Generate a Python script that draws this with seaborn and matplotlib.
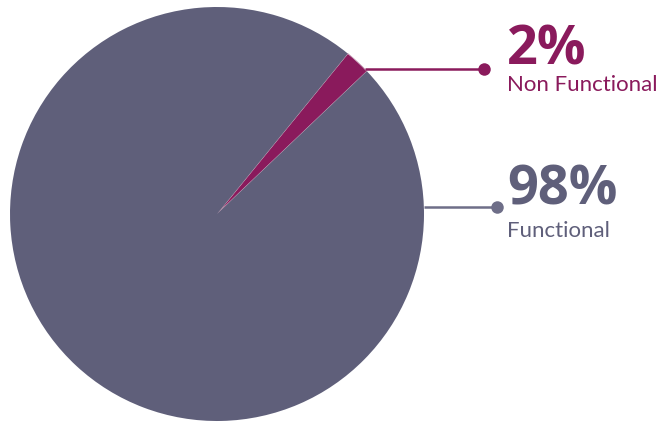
import numpy as np
import matplotlib
matplotlib.use("Agg")
import matplotlib.pyplot as plt
import seaborn as sns

# data
labels = ["Non Functional", "Functional"]
shares = [2, 98]
pct_text = ["2%", "98%"]
colors = ["#8a1a5c", "#5f5f7a"]
line_colors = ["#8a1a5c", "#6e6e88"]

sns.set_theme(style="white")
plt.rcParams['font.family'] = ['Lato', 'DejaVu Sans']

fig = plt.figure(figsize=(6.64, 4.28), dpi=100)
ax = fig.add_axes([0, 0, 1, 1])

cx, cy, r = 217, 214, 207
wedges, _ = ax.pie(shares, colors=colors, startangle=43.6, counterclock=True,
                   center=(cx, cy), radius=r,
                   wedgeprops=dict(linewidth=0.6, edgecolor='#c9a5bb'))
wedges[1].set_edgecolor(colors[1])
wedges[1].set_linewidth(0)

# pie() resets the limits, so set them afterwards
ax.set_xlim(0, 664)
ax.set_ylim(0, 428)
ax.set_aspect('equal')
ax.axis('off')

# leader lines and labels
anchor_angles = [wedges[0].theta1 + 0.8, 2.0]
dot_x = [484, 497]
pct_off = [4.5, 2.3]
lab_off = [-22, -30]
text_x = 507
for i, ang in enumerate(anchor_angles):
    a = np.deg2rad(ang)
    x0 = cx + r * np.cos(a)
    y0 = cy + r * np.sin(a)
    ax.plot([x0, dot_x[i]], [y0, y0], color=line_colors[i], lw=1.8,
            solid_capstyle='butt')
    ax.plot(dot_x[i], y0, 'o', color=line_colors[i], ms=9, mec='none')
    ax.text(text_x, y0 + pct_off[i], pct_text[i], color=colors[i], fontsize=39,
            fontweight='bold', family=['Open Sans', 'DejaVu Sans'],
            ha='left', va='baseline')
    ax.text(text_x, y0 + lab_off[i], labels[i], color=colors[i], fontsize=16,
            ha='left', va='baseline')

fig.savefig("out.png", dpi=100, facecolor='white')
